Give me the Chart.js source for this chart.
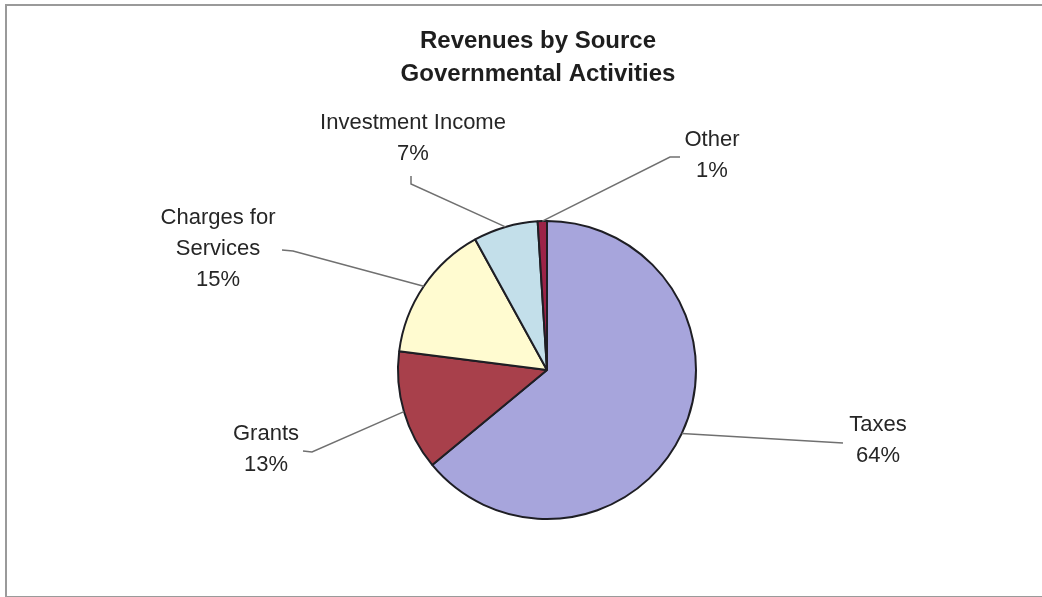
<!DOCTYPE html>
<html lang="en">
<head>
    <meta charset="UTF-8">
    <title>Revenues by Source</title>
    <script src="https://cdn.jsdelivr.net/npm/chart.js"></script>
    <style>
        body {
            margin: 0;
            padding: 0;
            background: #fff;
            overflow: hidden;
        }
        .frame {
            position: absolute;
            left: 5px;
            top: 4px;
            width: 1060px;
            height: 590px;
            border: 2px solid #9a9a9a;
        }
        .wrap {
            position: absolute;
            left: 0;
            top: 0;
            width: 1042px;
            height: 597px;
        }
    </style>
</head>
<body>
<div class="frame"></div>
<div class="wrap">
    <canvas id="revenueChart" width="1042" height="597"></canvas>
</div>

<script>
    // Revenue sources and their share of the total (percent)
    const sources = ['Taxes', 'Grants', 'Charges for Services', 'Investment Income', 'Other'];
    const shares = [64, 13, 15, 7, 1];
    const titleLines = ['Revenues by Source', 'Governmental Activities'];

    const sliceColors = ['#a7a5dc', '#a8404b', '#fffbd0', '#c3dfea', '#9c2348'];

    // label text lines, where they sit, and the leader line from the slice to the label
    const labelLayout = [
        { lines: ['Taxes'], x: 878, y: 425, path: [[843, 443]] },
        { lines: ['Grants'], x: 266, y: 434, path: [[312, 452], [303, 451]] },
        { lines: ['Charges for', 'Services'], x: 218, y: 218, path: [[293, 251], [282, 250]] },
        { lines: ['Investment Income'], x: 413, y: 123, path: [[411, 184], [411, 176]] },
        { lines: ['Other'], x: 712, y: 140, path: [[670, 157], [680, 157]] }
    ];

    const LINE_H = 31;
    const FONT = '"Liberation Sans", Arial, sans-serif';

    const calloutPlugin = {
        id: 'callouts',
        afterDraw(chart) {
            const ctx = chart.ctx;
            const arcs = chart.getDatasetMeta(0).data;
            ctx.save();

            // title
            ctx.fillStyle = '#1e1e1e';
            ctx.font = 'bold 24px ' + FONT;
            ctx.textAlign = 'center';
            ctx.textBaseline = 'middle';
            titleLines.forEach((t, i) => ctx.fillText(t, 538, 41 + i * 33));

            arcs.forEach((arc, i) => {
                const p = arc.getProps(['x', 'y', 'startAngle', 'endAngle', 'outerRadius'], true);
                const mid = (p.startAngle + p.endAngle) / 2;
                const ax = p.x + Math.cos(mid) * p.outerRadius;
                const ay = p.y + Math.sin(mid) * p.outerRadius;
                const lay = labelLayout[i];

                // leader line
                ctx.strokeStyle = '#707070';
                ctx.lineWidth = 1.5;
                ctx.beginPath();
                ctx.moveTo(ax, ay);
                lay.path.forEach(pt => ctx.lineTo(pt[0], pt[1]));
                ctx.stroke();

                // label text with percentage underneath
                ctx.fillStyle = '#262626';
                ctx.font = '22px ' + FONT;
                const rows = lay.lines.concat([shares[i] + '%']);
                rows.forEach((r, k) => ctx.fillText(r, lay.x, lay.y + k * LINE_H));
            });
            ctx.restore();
        }
    };

    new Chart(document.getElementById('revenueChart'), {
        type: 'pie',
        data: {
            labels: sources,
            datasets: [{
                data: shares,
                backgroundColor: sliceColors,
                borderColor: '#1e1e24',
                borderWidth: 2
            }]
        },
        options: {
            responsive: false,
            animation: false,
            layout: {
                padding: { left: 397, right: 345, top: 220, bottom: 77 }
            },
            plugins: {
                legend: { display: false },
                tooltip: { enabled: false }
            }
        },
        plugins: [calloutPlugin]
    });
</script>
</body>
</html>
